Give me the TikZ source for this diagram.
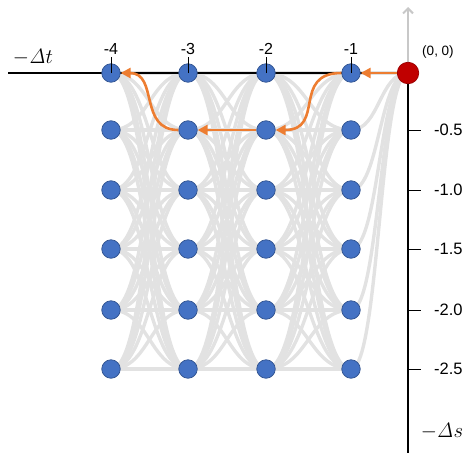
\documentclass[tikz,border=0pt]{standalone}
\usepackage[no-math]{fontspec}
\setmainfont{Liberation Sans}
\usetikzlibrary{arrows.meta}
\definecolor{nodeblue}{HTML}{4472C4}
\definecolor{nodeedge}{HTML}{2F528F}
\definecolor{origfill}{HTML}{C00000}
\definecolor{origedge}{HTML}{9A0000}
\definecolor{pathorange}{HTML}{ED7D31}
\definecolor{latticegray}{HTML}{E2E2E2}
\definecolor{upgray}{HTML}{C8C8C8}
\pgfdeclarelayer{bg}
\pgfsetlayers{bg,main}
\begin{document}
\begin{tikzpicture}[x=1pt,y=-1pt,
  bnode/.style={circle,fill=nodeblue,draw=nodeedge,line width=0.7pt,minimum size=18.5pt,inner sep=0pt},
  onode/.style={circle,fill=origfill,draw=origedge,line width=0.7pt,minimum size=21.5pt,inner sep=0pt},
  lattice/.style={draw=latticegray,line width=3.4pt},
  axisline/.style={draw=black,line width=1.8pt},
  upline/.style={draw=upgray,line width=2.2pt,-{Straight Barb[length=5pt,width=10pt,line width=2pt]}},
  tickline/.style={draw=black,line width=0.9pt},
  pathline/.style={draw=pathorange,line width=2.6pt,-{Triangle[length=10pt,width=10pt]}},
  toplab/.style={font=\fontsize{16}{18}\selectfont,inner sep=0pt},
  sidelab/.style={font=\fontsize{16.5}{18}\selectfont,inner sep=0pt,anchor=west},
  mathlab/.style={font=\fontsize{21}{23}\selectfont,inner sep=0pt},
  smalllab/.style={font=\fontsize{13.5}{15}\selectfont,inner sep=0pt}]
\useasboundingbox (0,0) rectangle (469,453);
% lattice nodes
\foreach \i/\x in {1/351,2/266,3/188,4/111}{
  \foreach \j/\y in {1/73,2/130,3/190,4/249,5/310,6/369}{
    \node[bnode] (n-\i-\j) at (\x,\y) {};
  }
}
\node[onode] (o) at (408,73) {};
% gray transition curves
\begin{pgfonlayer}{bg}
\foreach \a/\b/\m in {1/2/308.5,2/3/227,3/4/149.5}{
  \foreach \j/\yj in {1/73,2/130,3/190,4/249,5/310,6/369}{
    \foreach \k/\yk in {1/73,2/130,3/190,4/249,5/310,6/369}{
      \draw[lattice] (n-\a-\j.center) .. controls (\m,\yj) and (\m,\yk) .. (n-\b-\k.center);
    }
  }
}
\foreach \k/\yk in {1/73,2/130,3/190,4/249,5/310,6/369}{
  \draw[lattice] (o.center) .. controls (379.5,73) and (379.5,\yk) .. (n-1-\k.center);
}
% axes
\coordinate (tleft) at (8,73);
\coordinate (sbottom) at (408,453);
\coordinate (stop) at (408,7);
\draw[upline] (o.center) -- (stop);
\draw[axisline] (tleft) -- (o.center);
\draw[axisline] (o.center) -- (sbottom);
\end{pgfonlayer}
% top ticks and labels
\foreach \i/\x in {1/351,2/266,3/188,4/111}{
  \draw[tickline] (n-\i-1.center) -- ++(0,-16);
  \node[toplab] (tl-\i) at (\x,49) {-\i};
}
% right ticks and labels
\foreach \j/\y/\t in {2/130/-0.5,3/190/-1.0,4/249/-1.5,5/310/-2.0,6/369/-2.5}{
  \draw[tickline] (408,\y) -- (421,\y);
  \node[sidelab] (sl-\j) at (434,\y) {\t};
}
\node[mathlab,anchor=base] (tlab) at (33,63) {$-\mathit{\Delta} t$};
\node[mathlab,anchor=base] (slab) at (442,437) {$-\mathit{\Delta} s$};
\node[smalllab] (olab) at (438,52) {(0, 0)};
% orange path
\draw[pathline] (o) -- (n-1-1);
\draw[pathline] (n-1-1.west) .. controls +(-50,0) and +(50,0) .. (n-2-2.east);
\draw[pathline] (n-2-2) -- (n-3-2);
\draw[pathline] (n-3-2.west) .. controls +(-40,0) and +(38,0) .. (n-4-1.east);
\end{tikzpicture}
\end{document}
